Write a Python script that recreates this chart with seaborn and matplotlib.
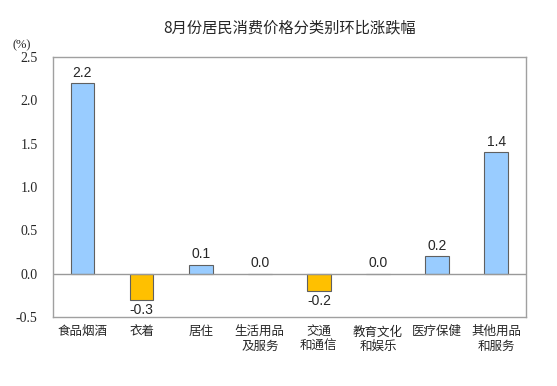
import matplotlib
matplotlib.use('Agg')
import matplotlib.pyplot as plt
import seaborn as sns
import pandas as pd

categories = ['食品烟酒', '衣着', '居住', '生活用品\n及服务', '交通\n和通信', '教育文化\n和娱乐', '医疗保健', '其他用品\n和服务']
values = [2.2, -0.3, 0.1, 0.0, -0.2, 0.0, 0.2, 1.4]
yticks = [-0.5, 0.0, 0.5, 1.0, 1.5, 2.0, 2.5]

sns.set_style('white')
plt.rcParams['font.family'] = ['Noto Sans CJK SC', 'DejaVu Sans']

df = pd.DataFrame({'cat': categories, 'val': values})
df['sign'] = ['neg' if v < 0 else 'pos' for v in values]

fig = plt.figure(figsize=(5.57, 3.86), dpi=100)
ax = fig.add_axes([0.095, 0.179, 0.849, 0.673])

sns.barplot(data=df, x='cat', y='val', hue='sign', palette={'pos': '#99CCFF', 'neg': '#FFC000'},
            width=0.4, dodge=False, legend=False, saturation=1,
            edgecolor='#606060', linewidth=0.8, ax=ax)

for i, v in enumerate(values):
    if v < 0:
        ax.text(i, v - 0.04, f'{v:.1f}', ha='center', va='top', fontsize=10, family='Liberation Sans')
    else:
        ax.text(i, v + 0.04, f'{v:.1f}', ha='center', va='bottom', fontsize=10, family='Liberation Sans')

ax.axhline(0, color='#999999', linewidth=1)
ax.set_ylim(-0.5, 2.5)
ax.set_xlim(-0.5, len(categories) - 0.5)
ax.set_yticks(yticks)
ax.set_yticklabels([f'{t:.1f}' for t in yticks], family='Liberation Serif', fontsize=10)
ax.tick_params(axis='y', length=3, color='#999999', pad=8)
ax.tick_params(axis='x', length=0, pad=6, labelsize=9)
ax.set_xlabel('')
ax.set_ylabel('')
for s in ax.spines.values():
    s.set_color('#A0A0A0')
    s.set_linewidth(1)

fig.text(0.022, 0.875, '(%)', family='Liberation Serif', fontsize=9)
fig.text(0.52, 0.915, '8月份居民消费价格分类别环比涨跌幅', ha='center', fontsize=11)

fig.savefig('out.png', dpi=100)
